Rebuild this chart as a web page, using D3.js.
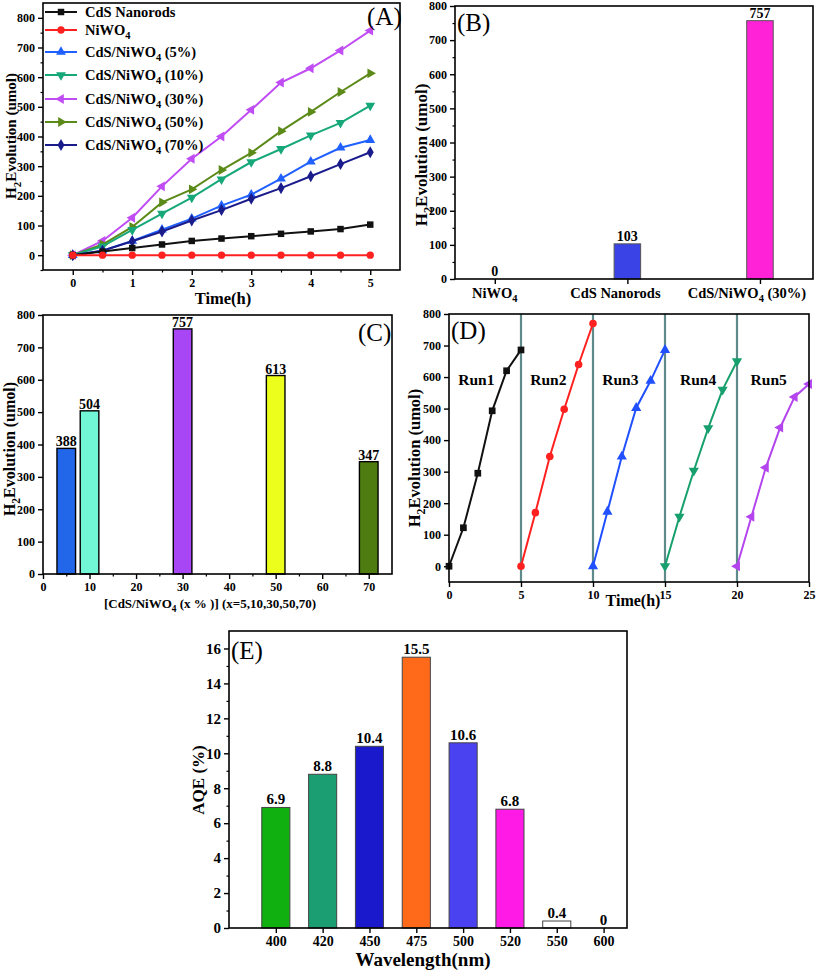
<!DOCTYPE html>
<html><head><meta charset="utf-8">
<script src="https://cdn.jsdelivr.net/npm/d3@7"></script>
<style>
body{margin:0;background:#fff}
text{font-family:"Liberation Serif","Times New Roman",serif;font-weight:bold;fill:#000}
</style>
</head><body>
<svg id="c" width="817" height="970"></svg>
<script>
// ---------- DATA ----------
// Panel A: H2 evolution vs time
const timeA = [0,0.5,1,1.5,2,2.5,3,3.5,4,4.5,5];
const cdsNanorods = [0,12,24,36,48,56,64,72,80,88,103];
const niwo4 = [0,0,0,0,0,0,0,0,0,0,0];
const cds5 = [0,15,48,86,123,167,204,258,315,362,388];
const cds10 = [0,30,85,140,194,256,314,358,404,446,504];
const cds30 = [0,48,126,232,325,400,490,582,630,690,757];
const cds50 = [0,36,95,178,222,287,345,418,483,550,613];
const cds70 = [0,15,47,80,117,152,190,226,266,307,347];
const seriesANames = ["CdS Nanorods","NiWO4","CdS/NiWO4 (5%)","CdS/NiWO4 (10%)","CdS/NiWO4 (30%)","CdS/NiWO4 (50%)","CdS/NiWO4 (70%)"];
const seriesAColors = ["#111111","#ff2020","#2060ff","#17a87a","#c04cf4","#5b8a18","#1a1c8c"];
const seriesASymbols = ["square","circle","up","down","left","right","diamond"];

// Panel B
const catB = ["NiWO4","CdS Nanorods","CdS/NiWO4 (30%)"];
const valB = [0,103,757];
const colB = ["#ffffff","#3a44e6","#ff22d6"];

// Panel C
const xC = [5,10,30,50,70];
const valC = [388,504,757,613,347];
const colC = ["#2266ea","#72f7d6","#a846f6","#ecff1c","#4f7c10"];

// Panel D: recycling runs
const runNames = ["Run1","Run2","Run3","Run4","Run5"];
const runStart = [0,5,10,15,20];
const runHours = [0,1,2,3,4,5];
const runLabelT = [1.9,6.9,11.9,17.3,22.2];
const run1 = [0,122,295,493,620,686];
const run2 = [0,170,348,498,640,770];
const run3 = [0,173,348,502,588,686];
const run4 = [0,157,303,438,560,650];
const run5 = [0,157,313,440,537,578];
const runColors = ["#111111","#ff2020","#2050ff","#17a06e","#b444ee"];
const runSymbols = ["square","circle","up","down","left"];

// Panel E: AQE
const wavelengths = ["400","420","450","475","500","520","550","600"];
const aqe = [6.9,8.8,10.4,15.5,10.6,6.8,0.4,0];
const aqeLabels = ["6.9","8.8","10.4","15.5","10.6","6.8","0.4","0"];
const colE = ["#10b010","#1a9e72","#1a1acc","#ff6a1a","#4a42f0","#ff1ae6","#ffffff","#ffffff"];

// ---------- HELPERS ----------
const svg = d3.select("#c");

function symbolPath(kind, size){
  const map = {square:d3.symbolSquare, circle:d3.symbolCircle, up:d3.symbolTriangle,
    down:d3.symbolTriangle, left:d3.symbolTriangle, right:d3.symbolTriangle, diamond:d3.symbolDiamond};
  return d3.symbol().type(map[kind]).size(size)();
}
function symbolRot(kind){ return {down:180,left:-90,right:90}[kind]||0; }

function frame(g,x0,y0,x1,y1){
  g.append("rect").attr("x",x0).attr("y",y0).attr("width",x1-x0).attr("height",y1-y0)
   .attr("fill","none").attr("stroke","#000").attr("stroke-width",1.6);
}
function styleAxis(a, fs){
  a.attr("font-family",null);
  a.selectAll("path").remove();
  a.selectAll("line").attr("stroke","#000").attr("stroke-width",1.4);
  a.selectAll("text").style("font-size",fs+"px").style("font-family","'Liberation Serif',serif").style("font-weight","bold");
}
function minor(g, axisFn, scale, vals, transform){
  const a = g.append("g").attr("transform",transform).call(axisFn(scale).tickValues(vals).tickSize(2.5).tickFormat(""));
  a.selectAll("path").remove();
  a.selectAll("line").attr("stroke","#000").attr("stroke-width",1.2);
}
function richText(sel, parts, fs){
  let sub=false;
  parts.forEach(p=>{
    const t = sel.append("tspan").text(p[0]);
    if(p[1] && !sub){ t.attr("dy", fs*0.3).style("font-size",(fs*0.72)+"px"); sub=true; }
    else if(!p[1] && sub){ t.attr("dy", -fs*0.3); sub=false; }
  });
  return sel;
}
function yTitle(g, x, y, fs, parts){
  const t = g.append("text").attr("transform",`translate(${x},${y}) rotate(-90)`)
    .attr("text-anchor","middle").style("font-size",fs+"px");
  richText(t, parts, fs);
}
function panelLabel(g,x,y,txt){
  g.append("text").attr("x",x).attr("y",y).text(txt)
   .style("font-size","25px").style("font-weight","normal");
}
const H2parts = [["H"],["2",true],["Evolution (umol)"]];

// ---------- PANEL A ----------
{
  const g = svg.append("g");
  const L=43,R=400,T=3,B=270;
  const x = d3.scaleLinear([-0.5,5.5],[L,R]);
  const y = d3.scaleLinear([-50,850],[B,T]);
  const ax = g.append("g").attr("transform",`translate(0,${B})`).call(d3.axisBottom(x).tickValues([0,1,2,3,4,5]).tickSize(5).tickPadding(3).tickFormat(d3.format("d")));
  styleAxis(ax,12);
  minor(g,d3.axisBottom,x,[0.5,1.5,2.5,3.5,4.5],`translate(0,${B})`);
  const ay = g.append("g").attr("transform",`translate(${L},0)`).call(d3.axisLeft(y).tickValues(d3.range(0,801,100)).tickSize(5).tickPadding(3));
  styleAxis(ay,12);
  minor(g,d3.axisLeft,y,[-50,50,150,250,350,450,550,650,750],`translate(${L},0)`);
  frame(g,L,T,R,B);
  const allA = [cdsNanorods,niwo4,cds5,cds10,cds30,cds50,cds70];
  const line = d3.line().x((d,i)=>x(timeA[i])).y(d=>y(d));
  const order = [4,5,3,2,6,0,1];
  order.forEach(k=>{
    g.append("path").attr("d",line(allA[k])).attr("fill","none").attr("stroke",seriesAColors[k]).attr("stroke-width",2);
    g.selectAll(null).data(allA[k]).enter().append("path")
      .attr("d",symbolPath(seriesASymbols[k],42))
      .attr("transform",(d,i)=>`translate(${x(timeA[i])},${y(d)}) rotate(${symbolRot(seriesASymbols[k])})`)
      .attr("fill",seriesAColors[k]);
  });
  const rows=[12,30,52,75,99,122,145];
  seriesANames.forEach((n,k)=>{
    const yy=rows[k];
    g.append("line").attr("x1",45).attr("x2",77).attr("y1",yy).attr("y2",yy).attr("stroke",seriesAColors[k]).attr("stroke-width",2);
    g.append("path").attr("d",symbolPath(seriesASymbols[k],42)).attr("transform",`translate(61,${yy}) rotate(${symbolRot(seriesASymbols[k])})`).attr("fill",seriesAColors[k]);
    const t=g.append("text").attr("x",85).attr("y",yy+5).style("font-size","14.5px");
    const i=n.indexOf("NiWO4");
    if(i>=0) richText(t,[[n.slice(0,i)+"NiWO"],["4",true],[n.slice(i+5)]],14.5);
    else t.text(n);
  });
  panelLabel(g,367,25,"(A)");
  g.append("text").attr("x",223).attr("y",304).attr("text-anchor","middle").style("font-size","16.5px").text("Time(h)");
  yTitle(g,16,136,15,H2parts);
}

// ---------- PANEL B ----------
{
  const g = svg.append("g");
  const L=455,R=813,T=6,B=279;
  const x = d3.scaleLinear([-0.3,2.4],[L,R]);
  const y = d3.scaleLinear([0,800],[B,T]);
  const ay = g.append("g").attr("transform",`translate(${L},0)`).call(d3.axisLeft(y).tickValues(d3.range(0,801,100)).tickSize(5).tickPadding(3));
  styleAxis(ay,12);
  minor(g,d3.axisLeft,y,d3.range(50,800,100),`translate(${L},0)`);
  const ax = g.append("g").attr("transform",`translate(0,${B})`).call(d3.axisBottom(x).tickValues([0,1,2]).tickSize(5).tickFormat(""));
  styleAxis(ax,12);
  const bw = x(0.1)-x(0);
  const labShift=[0,-12,-13];
  catB.forEach((c,i)=>{
    if(valB[i]>0){
      g.append("rect").attr("x",x(i)-bw).attr("y",y(valB[i])).attr("width",2*bw).attr("height",y(0)-y(valB[i]))
        .attr("fill",colB[i]).attr("stroke","#555").attr("stroke-width",1);
    }
    g.append("text").attr("x",x(i)).attr("y",y(valB[i])-3).attr("text-anchor","middle").style("font-size","14px").text(valB[i]);
    const t = g.append("text").attr("x",x(i)+labShift[i]).attr("y",298).attr("text-anchor","middle").style("font-size","14.5px");
    const k=c.indexOf("NiWO4");
    if(k>=0) richText(t,[[c.slice(0,k)+"NiWO"],["4",true],[c.slice(k+5)]],14.5); else t.text(c);
  });
  frame(g,L,T,R,B);
  panelLabel(g,457,31,"(B)");
  yTitle(g,427,155,17,H2parts);
}

// ---------- PANEL C ----------
{
  const g = svg.append("g");
  const L=43,R=392,T=315,B=574;
  const x = d3.scaleLinear([0,75],[L,R]);
  const y = d3.scaleLinear([0,800],[B,T]);
  const ay = g.append("g").attr("transform",`translate(${L},0)`).call(d3.axisLeft(y).tickValues(d3.range(0,801,100)).tickSize(5).tickPadding(3));
  styleAxis(ay,12);
  const ax = g.append("g").attr("transform",`translate(0,${B})`).call(d3.axisBottom(x).tickValues(d3.range(0,71,10)).tickSize(5).tickPadding(3));
  styleAxis(ax,12);
  minor(g,d3.axisBottom,x,d3.range(5,75,10),`translate(0,${B})`);
  xC.forEach((v,i)=>{
    g.append("rect").attr("x",x(v-2)).attr("y",y(valC[i])).attr("width",x(v+2)-x(v-2)).attr("height",y(0)-y(valC[i]))
      .attr("fill",colC[i]).attr("stroke","#000").attr("stroke-width",1.4);
    g.append("text").attr("x",x(v)).attr("y",y(valC[i])-2).attr("text-anchor","middle").style("font-size","14px").text(valC[i]);
  });
  frame(g,L,T,R,B);
  panelLabel(g,358,341,"(C)");
  const t=g.append("text").attr("x",210).attr("y",608).attr("text-anchor","middle").style("font-size","13px");
  richText(t,[["[CdS/NiWO"],["4",true],[" (x % )] (x=5,10,30,50,70)"]],13);
  yTitle(g,15,449,16,H2parts);
}

// ---------- PANEL D ----------
{
  const g = svg.append("g");
  const L=449,R=809,T=314,B=582;
  const x = d3.scaleLinear([0,25],[L,R]);
  const y = d3.scaleLinear([-50,800],[B,T]);
  const ay = g.append("g").attr("transform",`translate(${L},0)`).call(d3.axisLeft(y).tickValues(d3.range(0,801,100)).tickSize(5).tickPadding(3));
  styleAxis(ay,12);
  const ax = g.append("g").attr("transform",`translate(0,${B})`).call(d3.axisBottom(x).tickValues([0,5,10,15,20,25]).tickSize(5).tickPadding(3));
  styleAxis(ax,12);
  [5,10,15,20].forEach(v=>{
    g.append("line").attr("x1",x(v)).attr("x2",x(v)).attr("y1",T).attr("y2",B).attr("stroke","#5f8a8a").attr("stroke-width",2.2);
  });
  const runs=[run1,run2,run3,run4,run5];
  runs.forEach((r,k)=>{
    const line=d3.line().x((d,i)=>x(runStart[k]+runHours[i])).y(d=>y(d));
    g.append("path").attr("d",line(r)).attr("fill","none").attr("stroke",runColors[k]).attr("stroke-width",2);
    g.selectAll(null).data(r).enter().append("path")
      .attr("d",symbolPath(runSymbols[k],45))
      .attr("transform",(d,i)=>`translate(${x(runStart[k]+runHours[i])},${y(d)}) rotate(${symbolRot(runSymbols[k])})`)
      .attr("fill",runColors[k]);
    g.append("text").attr("x",x(runLabelT[k])).attr("y",y(600)+8).attr("text-anchor","middle").style("font-size","15.5px").text(runNames[k]);
  });
  frame(g,L,T,R,B);
  panelLabel(g,451,339,"(D)");
  g.append("text").attr("x",633).attr("y",606).attr("text-anchor","middle").style("font-size","16px").text("Time(h)");
  yTitle(g,420,458,16.5,H2parts);
}

// ---------- PANEL E ----------
{
  const g = svg.append("g");
  const L=229,R=627,T=631,B=928;
  const x = d3.scaleLinear([-1,7.5],[L,R]);
  const y = d3.scaleLinear([0,17],[B,T]);
  const ay = g.append("g").attr("transform",`translate(${L},0)`).call(d3.axisLeft(y).tickValues(d3.range(0,17,2)).tickSize(5).tickPadding(3));
  styleAxis(ay,15);
  minor(g,d3.axisLeft,y,d3.range(1,17,2),`translate(${L},0)`);
  const ax = g.append("g").attr("transform",`translate(0,${B})`).call(d3.axisBottom(x).tickValues(d3.range(0,8)).tickSize(5).tickPadding(3).tickFormat(i=>wavelengths[i]));
  styleAxis(ax,14);
  const hw = (x(1)-x(0))*0.3;
  wavelengths.forEach((w,i)=>{
    if(aqe[i]>0){
      g.append("rect").attr("x",x(i)-hw).attr("y",y(aqe[i])).attr("width",2*hw).attr("height",y(0)-y(aqe[i]))
        .attr("fill",colE[i]).attr("stroke","#444").attr("stroke-width",1);
    }
    g.append("text").attr("x",x(i)).attr("y",y(aqe[i])-3).attr("text-anchor","middle").style("font-size","15px").text(aqeLabels[i]);
  });
  frame(g,L,T,R,B);
  panelLabel(g,231,659,"(E)");
  g.append("text").attr("x",423).attr("y",966).attr("text-anchor","middle").style("font-size","19px").text("Wavelength(nm)");
  g.append("text").attr("transform","translate(204,780) rotate(-90)").attr("text-anchor","middle").style("font-size","17px").text("AQE (%)");
}
</script>
</body></html>
